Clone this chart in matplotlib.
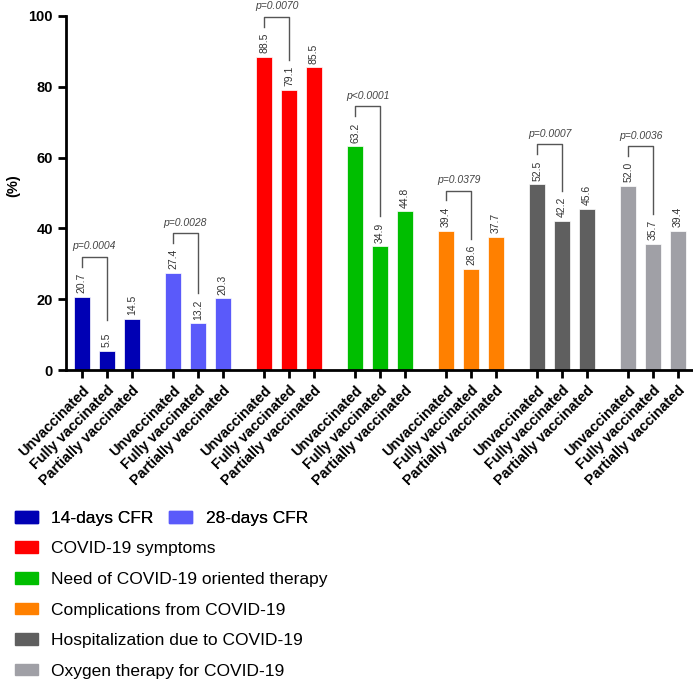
import matplotlib.pyplot as plt
from matplotlib.patches import Patch

plt.rcParams['font.family'] = ['Liberation Sans', 'DejaVu Sans']

groups = ["14-days CFR", "28-days CFR", "COVID-19 symptoms",
          "Need of COVID-19 oriented therapy", "Complications from COVID-19",
          "Hospitalization due to COVID-19", "Oxygen therapy for COVID-19"]
status = ["Unvaccinated", "Fully vaccinated", "Partially vaccinated"]
colors = ["#0000B4", "#5A5AFA", "#FF0000", "#00BE00", "#FF8000", "#5F5F5F", "#A0A0A6"]

unvacc = [20.7, 27.4, 88.5, 63.2, 39.4, 52.5, 52.0]
fully = [5.5, 13.2, 79.1, 34.9, 28.6, 42.2, 35.7]
partial = [14.5, 20.3, 85.5, 44.8, 37.7, 45.6, 39.4]
pvals = ["p=0.0004", "p=0.0028", "p=0.0070", "p<0.0001", "p=0.0379", "p=0.0007", "p=0.0036"]

fig = plt.figure(figsize=(6.93, 6.86), dpi=100)
ax = fig.add_axes([0.0952, 0.4606, 0.9034, 0.5161])

gap = 3.65
ticks = []
ticklabels = []
for i in range(len(groups)):
    vals = [unvacc[i], fully[i], partial[i]]
    xs = [i * gap + j for j in range(3)]
    ax.bar(xs, vals, width=0.66, color=colors[i], edgecolor="white", linewidth=0.5)
    for x, v in zip(xs, vals):
        ax.text(x, v + 1.0, "%.1f" % v, rotation=90, ha="center", va="bottom",
                fontsize=7.5, color="#333333")
    ticks += xs
    ticklabels += status
    # bracket between unvaccinated and fully vaccinated
    y1 = vals[0] + 8.5
    y2 = vals[1] + 8.5
    top = max(y1, y2) + 2.8
    ax.plot([xs[0], xs[0], xs[1], xs[1]], [y1, top, top, y2],
            color="#555555", lw=1, clip_on=False)
    ax.text((xs[0] + xs[1]) / 2, top + 1.5, pvals[i], style="italic",
            ha="center", va="bottom", fontsize=7.5, color="#444444", clip_on=False)

ax.set_xlim(-0.64, 6 * gap + 2.56)
ax.set_ylim(0, 100)
ax.set_yticks([0, 20, 40, 60, 80, 100])
ax.set_xticks(ticks)
ax.set_xticklabels(ticklabels, rotation=45, ha="right", rotation_mode="anchor",
                   fontsize=10.4, fontweight="bold")
for lab in ax.get_yticklabels():
    lab.set_fontweight("bold")
    lab.set_fontsize(10.5)
ax.set_ylabel("(%)", fontweight="bold", fontsize=10.5)
ax.yaxis.set_label_coords(-0.073, 0.52)
ax.spines["top"].set_visible(False)
ax.spines["right"].set_visible(False)
ax.spines["left"].set_linewidth(2)
ax.spines["bottom"].set_linewidth(2)
ax.tick_params(width=2, length=6)

h = [Patch(color=c) for c in colors]
legkw = dict(frameon=False, fontsize=12.5, handlelength=1.3, handleheight=0.65,
             handletextpad=0.8, borderpad=0, borderaxespad=0)
leg1 = fig.legend(h[:2], groups[:2], loc="upper left", bbox_to_anchor=(0.0216, 0.255),
                  ncol=2, columnspacing=0.9, **legkw)
fig.legend(h[2:], groups[2:], loc="upper left", bbox_to_anchor=(0.0216, 0.211),
           labelspacing=0.9, **legkw)
fig.add_artist(leg1)

fig.savefig("out.png", dpi=100)
